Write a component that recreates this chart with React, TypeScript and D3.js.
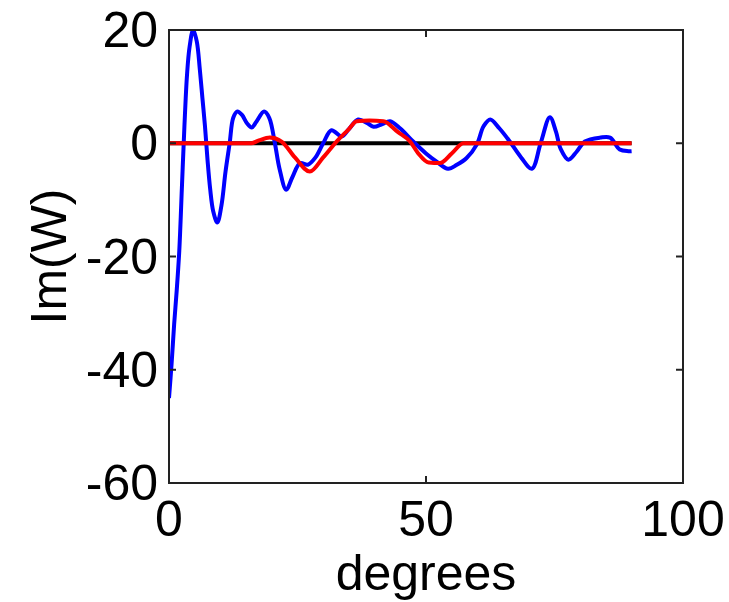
import React from "react";
import * as d3 from "d3";

const xTicks = [0, 50, 100];
const yTicks = [20, 0, -20, -40, -60];

const blueX = [0, 0.5, 1.0, 1.5, 2.0, 2.5, 3.0, 3.5, 4.0, 4.7, 5.4, 6.0, 6.5, 7.0, 7.5, 8.0, 8.6, 9.4, 10.2, 11.0, 11.8, 12.5, 13.3, 14.2, 15.2, 16.1, 17.0, 18.5, 19.5, 20.6, 21.5, 22.8, 24.0, 25.5, 27.0, 28.5, 30.0, 31.6, 33.6, 35.0, 36.8, 38.5, 39.8, 41.5, 43.0, 45.0, 47.5, 50.0, 52.0, 54.3, 56.0, 57.9, 59.9, 61.2, 62.5, 64.3, 66.3, 68.5, 70.6, 72.3, 74.1, 75.3, 76.2, 77.7, 79.3, 80.9, 83.9, 85.8, 87.7, 89.4, 90];
const blueY = [-45, -39, -32, -26, -19, -8, 3, 12, 17, 20, 18, 13, 8, 3, -3, -8, -12, -14, -11, -5, 0, 4.5, 5.6, 5.0, 3.5, 2.8, 3.8, 5.6, 4.5, 0, -4.5, -8.2, -6, -3.5, -3.8, -2.5, 0, 2.3, 1.2, 2.5, 4.2, 3.6, 2.9, 3.4, 3.9, 2.6, 0.3, -1.8, -3.2, -4.5, -3.8, -2.6, -0.2, 3, 4.2, 2.6, 0.3, -2.5, -4.5, 0, 4.6, 2, -1, -2.9, -1.5, 0.3, 1.0, 1.0, -1.1, -1.4, -1.4];

const redX = [0, 16.0, 17.5, 19.6, 21.9, 24.5, 27.4, 30, 32.6, 35, 36.5, 39, 41.7, 44.5, 46.9, 48.5, 50.5, 52.7, 55, 57.3, 60, 90];
const redY = [0, 0, 0.5, 1.0, 0.3, -2.5, -5, -2.5, 0.3, 2.5, 3.9, 4.0, 3.9, 2, 0.3, -1.8, -3.4, -3.5, -1.8, 0, 0, 0];

const zeroX = [0, 90];
const zeroY = [0, 0];

export default function App() {
  const W = 729, H = 602;
  const left = 169, right = 683, top = 30, bottom = 483;
  const x = d3.scaleLinear().domain([0, 100]).range([left, right]);
  const y = d3.scaleLinear().domain([-60, 20]).range([bottom, top]);
  const toPts = (xs: number[], ys: number[]) => xs.map((v, i) => [v, ys[i]] as [number, number]);
  const blueLine = d3.line<[number, number]>().x(d => x(d[0])).y(d => y(d[1])).curve(d3.curveCatmullRom.alpha(0.5));
  const redLine = d3.line<[number, number]>().x(d => x(d[0])).y(d => y(d[1])).curve(d3.curveMonotoneX);
  const straight = d3.line<[number, number]>().x(d => x(d[0])).y(d => y(d[1]));
  const font = "Liberation Sans, Arial, sans-serif";
  const tl = 7;
  return (
    <svg width={W} height={H} style={{ position: "absolute", left: 0, top: 0, background: "#fff" }}>
      <defs>
        <clipPath id="plotclip">
          <rect x={left} y={top} width={right - left} height={bottom - top} />
        </clipPath>
      </defs>
      <rect x={0} y={0} width={W} height={H} fill="#fff" />
      <g clipPath="url(#plotclip)">
        <path d={straight(toPts(zeroX, zeroY)) || ""} fill="none" stroke="#000" strokeWidth={4} />
        <path d={blueLine(toPts(blueX, blueY)) || ""} fill="none" stroke="#0000ff" strokeWidth={4} strokeLinejoin="round" />
        <path d={redLine(toPts(redX, redY)) || ""} fill="none" stroke="#ff0000" strokeWidth={4} strokeLinejoin="round" />
      </g>
      <rect x={left} y={top} width={right - left} height={bottom - top} fill="none" stroke="#222" strokeWidth={2} />
      {xTicks.map(t => (
        <g key={"x" + t}>
          <line x1={x(t)} x2={x(t)} y1={bottom} y2={bottom - tl} stroke="#222" strokeWidth={2} />
          <line x1={x(t)} x2={x(t)} y1={top} y2={top + tl} stroke="#222" strokeWidth={2} />
          <text x={x(t)} y={536} textAnchor="middle" fontFamily={font} fontSize={50} fill="#000">{t}</text>
        </g>
      ))}
      {yTicks.map(t => (
        <g key={"y" + t}>
          <line x1={left} x2={left + tl} y1={y(t)} y2={y(t)} stroke="#222" strokeWidth={2} />
          <line x1={right} x2={right - tl} y1={y(t)} y2={y(t)} stroke="#222" strokeWidth={2} />
          <text x={158} y={y(t) + 17} textAnchor="end" fontFamily={font} fontSize={50} fill="#000">{t}</text>
        </g>
      ))}
      <text x={(left + right) / 2} y={590} textAnchor="middle" fontFamily={font} fontSize={50} fill="#000">degrees</text>
      <text transform={`translate(66, ${(top + bottom) / 2}) rotate(-90)`} textAnchor="middle" fontFamily={font} fontSize={50} fill="#000">Im(W)</text>
    </svg>
  );
}
